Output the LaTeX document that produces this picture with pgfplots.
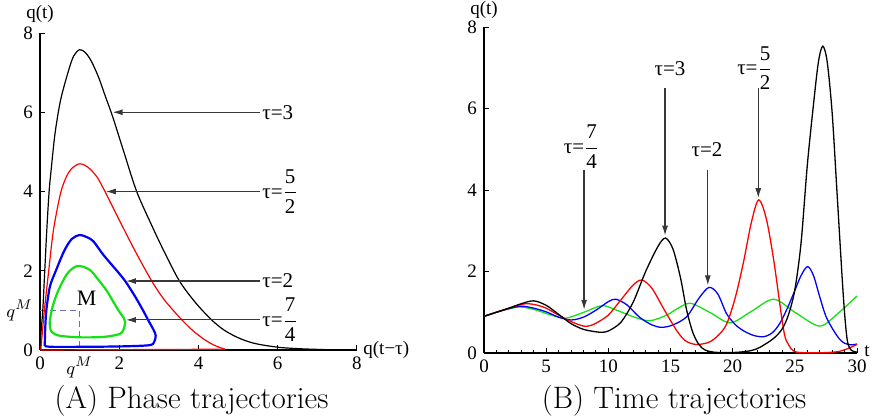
\documentclass[border=0pt]{standalone}
\usepackage{amsmath}
\usepackage{fontspec}
\usepackage{pgfplots}
\pgfplotsset{compat=1.18}
\usetikzlibrary{arrows.meta}
\newfontfamily\tms{Liberation Serif}

\definecolor{qgreen}{RGB}{20,225,20}
\definecolor{arrowgray}{RGB}{55,55,55}
\definecolor{dashblue}{RGB}{110,110,190}

% tau labels with stacked fraction
\newcommand{\tfr}[2]{$\dfrac{\mbox{\tms #1}}{\mbox{\tms #2}}$}

\pgfplotsset{
  traj/.style={
    scale only axis, axis lines=left, axis line style={-, line width=0.6pt},
    tick align=inside, major tick length=2.5pt, minor tick length=1.5pt,
    tick style={line width=0.5pt, black},
    ymin=0, ymax=8, ytick={0,2,4,6,8},
    tick label style={font=\tms\fontsize{9.5}{11}\selectfont},
    /pgf/number format/assume math mode=true,
    every axis y label/.style={at={(axis description cs:0,1)}, anchor=south,
      inner sep=0.5pt, font=\tms\fontsize{9.5}{11}\selectfont},
    every axis x label/.style={at={(axis description cs:1,0)}, anchor=west,
      inner sep=0.5pt, font=\tms\fontsize{9.5}{11}\selectfont},
    clip=false,
  },
}
\tikzset{
  tlab/.style={font=\tms\fontsize{10.5}{12}\selectfont, inner sep=1pt},
  tarr/.style={arrowgray, line width=0.6pt, -{Latex[length=5pt,width=3pt]}},
}

\begin{document}
\begin{tikzpicture}
\useasboundingbox (0,0) rectangle (436pt,208.5pt);

% ---------- (A) phase trajectories ----------
\begin{axis}[traj, at={(20pt,33.5pt)}, anchor=south west,
  width=158.5pt, height=158.5pt,
  xmin=0, xmax=8, xtick={0,2,4,6,8},
  extra x ticks={1}, extra x tick labels={$q^M$},
  extra y ticks={1}, extra y tick labels={$q^M$},
  extra tick style={major tick length=0pt},
  xlabel={q(t−τ)}, ylabel={q(t)},
  xlabel style={xshift=2.5pt}, ylabel style={yshift=4.5pt}]

\draw[dashblue, densely dashed, line width=0.6pt] (axis cs:0,1) -- (axis cs:1,1) -- (axis cs:1,0);
\node[font=\tms\fontsize{11}{12}\selectfont] at (axis cs:1.18,1.31) {M};

% tau = 3
\addplot[black, line width=0.6pt, smooth] coordinates {
(0.00,0.00) (0.03,0.5) (0.07,1) (0.12,2) (0.17,3) (0.23,4) (0.29,4.63) (0.38,5.47)
(0.52,6.31) (0.72,7.05) (0.85,7.42) (1.0,7.58) (1.15,7.5) (1.3,7.28) (1.48,6.88)
(1.65,6.4) (1.83,5.9) (2.1,5.05) (2.44,4) (2.84,3.1) (3.15,2.45) (3.52,1.74)
(3.92,1.2) (4.33,0.76) (4.65,0.5) (5.0,0.31) (5.4,0.17) (6.0,0.07) (6.6,0.03)
(7.2,0.01) (7.5,0.005)};
\addplot[black, line width=0.6pt] coordinates {(7.5,0.005) (0.0,0.0)};

% tau = 5/2
\addplot[red, line width=0.6pt, smooth] coordinates {
(0.02,0) (0.11,1) (0.22,2) (0.34,3.03) (0.52,3.96) (0.67,4.38) (0.82,4.6)
(1.01,4.70) (1.2,4.62) (1.43,4.38) (1.64,4.0) (2.0,3.28) (2.4,2.5) (2.82,1.74)
(3.15,1.25) (3.58,0.76) (3.88,0.47) (4.17,0.25) (4.42,0.11) (4.67,0.02)};
\addplot[red, line width=0.6pt] coordinates {(4.67,0.02) (0.02,0.0)};

% tau = 2
\addplot[blue, line width=1.1pt, smooth] coordinates {
(0.12,0.1) (0.13,0.5) (0.16,1) (0.25,1.6) (0.4,2) (0.61,2.5) (0.8,2.8) (1.0,2.9)
(1.2,2.84) (1.35,2.74) (1.6,2.4) (1.94,2.0) (2.15,1.74) (2.4,1.35) (2.6,1.0)
(2.76,0.7) (2.87,0.5) (2.92,0.36) (2.88,0.2) (2.75,0.12) (2.0,0.09) (1.0,0.08)
(0.3,0.08) (0.12,0.1)};

% tau = 7/4
\addplot[qgreen, line width=1.1pt, smooth] coordinates {
(0.25,0.76) (0.32,1.1) (0.46,1.5) (0.67,1.9) (0.85,2.08) (1.01,2.12) (1.26,2.02)
(1.45,1.8) (1.68,1.5) (1.98,1.0) (2.12,0.8) (2.15,0.7) (2.1,0.5) (2.0,0.4)
(1.6,0.33) (1.0,0.32) (0.5,0.36) (0.3,0.45) (0.25,0.6) (0.25,0.76)};

\draw[tarr] (axis cs:5.55,6) -- (axis cs:1.83,6);
\draw[tarr] (axis cs:5.55,4) -- (axis cs:1.66,4);
\draw[tarr] (axis cs:5.55,1.74) -- (axis cs:2.17,1.74);
\draw[tarr] (axis cs:5.55,0.76) -- (axis cs:2.17,0.76);
\node[tlab, anchor=west] at (axis cs:5.55,6) {τ=3};
\node[tlab, anchor=west] at (axis cs:5.55,4) {τ=\tfr{5}{2}};
\node[tlab, anchor=west] at (axis cs:5.55,1.74) {τ=2};
\node[tlab, anchor=west] at (axis cs:5.55,0.76) {τ=\tfr{7}{4}};
\end{axis}

% ---------- (B) time trajectories ----------
\begin{axis}[traj, at={(242pt,32pt)}, anchor=south west,
  width=186.5pt, height=163pt,
  xmin=0, xmax=30, xtick={0,5,...,30}, minor x tick num=4,
  xlabel={t}, ylabel={q(t)},
  xlabel style={xshift=3pt, yshift=1pt}, ylabel style={yshift=3.5pt}]

% tau = 7/4
\addplot[qgreen, line width=0.65pt, smooth] coordinates {
(0,0.90) (1,1.00) (2,1.08) (2.9,1.13) (4,1.07) (5,0.97) (6,0.88) (6.7,0.86)
(8.2,1.02) (9,1.12) (9.7,1.16) (11,1.01) (12,0.89) (13.3,0.79) (14.7,0.93)
(15.5,1.08) (16.6,1.22) (18.2,0.99) (19.8,0.74) (21.5,1.02) (23.3,1.32)
(25.1,0.98) (27,0.66) (28.5,0.98) (30,1.40)};

% tau = 2
\addplot[blue, line width=0.65pt, smooth] coordinates {
(0,0.90) (1,1.00) (2,1.09) (3,1.15) (4,1.10) (5,1.01) (6,0.88) (7,0.81) (8,0.88)
(9,1.05) (10,1.26) (10.6,1.32) (11.5,1.18) (12.5,0.88) (13.5,0.69) (14.3,0.63)
(15.2,0.69) (16.3,0.89) (17.3,1.35) (18.1,1.61) (18.8,1.45) (19.5,0.97)
(20.2,0.70) (20.9,0.54) (21.7,0.43) (22.5,0.40) (23.2,0.50) (23.8,0.73)
(24.4,1.10) (24.9,1.46) (25.5,1.90) (26.03,2.12) (26.5,1.90) (27.0,1.38)
(27.5,0.90) (28.1,0.56) (28.6,0.34) (29.0,0.24) (29.5,0.20) (30,0.22)};

% tau = 5/2
\addplot[red, line width=0.65pt, smooth] coordinates {
(0,0.90) (1,1.00) (2,1.10) (3,1.19) (3.5,1.21) (4.2,1.18) (5,1.10) (6,0.93)
(7,0.77) (8,0.66) (8.5,0.67) (9,0.73) (10,0.93) (11,1.30) (12,1.67) (12.7,1.79)
(13.5,1.59) (14.5,1.06) (15.5,0.55) (16.2,0.30) (17.0,0.21) (17.7,0.23)
(18.2,0.28) (18.8,0.42) (19.5,0.70) (20.2,1.35) (20.85,2.20) (21.5,3.20)
(22.09,3.76) (22.7,3.30) (23.3,2.28) (24.1,0.56) (24.5,0.20) (24.9,0.05)
(25.5,0.01) (27,0.005) (28.4,0.03) (29.2,0.10) (30,0.21)};

% tau = 3
\addplot[black, line width=0.65pt, smooth] coordinates {
(0,0.90) (1,1.00) (2,1.10) (3,1.21) (4,1.28) (5,1.17) (6,0.95) (7,0.72) (8,0.58)
(9,0.52) (9.5,0.51) (10,0.54) (11,0.75) (12,1.25) (13,2.00) (14,2.62) (14.6,2.82)
(15.2,2.55) (15.8,1.85) (16.3,1.05) (16.8,0.50) (17.3,0.20) (17.8,0.07)
(18.5,0.02) (19.5,0.01) (20.5,0.02) (21.5,0.06) (22.2,0.14) (23.3,0.36)
(24,0.60) (24.5,0.95) (25,1.55) (25.5,2.70) (26,4.60) (26.5,6.10) (26.9,7.15)
(27.25,7.53) (27.6,7.15) (28,5.90) (28.4,3.90) (28.9,1.40) (29.2,0.35)
(29.5,0.08) (30,0.02)};

\draw[tarr] (axis cs:8.05,4.5) -- (axis cs:8.05,1.06);
\draw[tarr] (axis cs:14.56,6.5) -- (axis cs:14.56,2.88);
\draw[tarr] (axis cs:18.0,4.48) -- (axis cs:18.0,1.66);
\draw[tarr] (axis cs:22.06,6.5) -- (axis cs:22.06,3.8);
\node[tlab] at (axis cs:7.85,5.06) {τ=\tfr{7}{4}};
\node[tlab] at (axis cs:14.96,6.99) {τ=3};
\node[tlab] at (axis cs:17.94,5.0) {τ=2};
\node[tlab] at (axis cs:21.8,6.99) {τ=\tfr{5}{2}};
\end{axis}

\node[font=\fontsize{15.5}{18}\selectfont, anchor=base] at (95.75pt,4pt) {(A) Phase trajectories};
\node[font=\fontsize{15.5}{18}\selectfont, anchor=base] at (337pt,4pt) {(B) Time trajectories};
\end{tikzpicture}
\end{document}
